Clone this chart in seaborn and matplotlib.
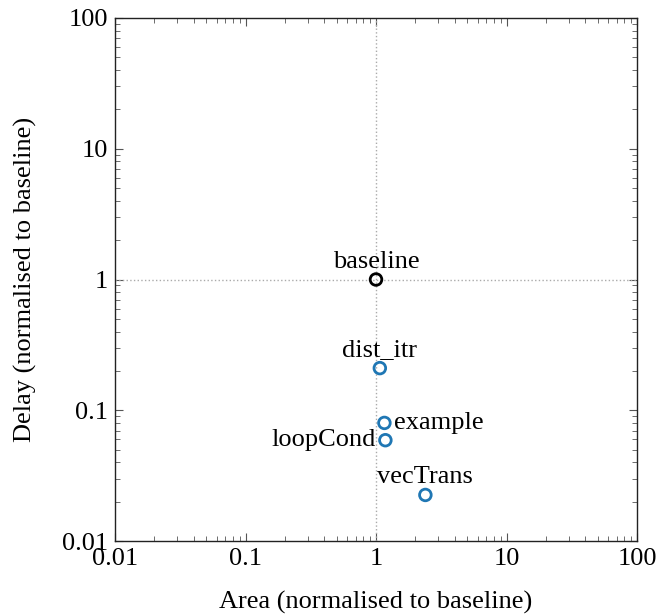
import seaborn as sns
import matplotlib.pyplot as plt
import pandas as pd

# Datos
nombres = ["baseline", "dist_itr", "example", "loopCond", "vecTrans"]
area    = [1.0, 1.07, 1.16, 1.18, 2.39]
delay   = [1.0, 0.21, 0.080, 0.059, 0.0225]
grupo   = ["base", "opt", "opt", "opt", "opt"]

df = pd.DataFrame({"nombre": nombres, "area": area, "delay": delay, "grupo": grupo})

sns.set_style("ticks")
plt.rcParams["font.family"] = ["Liberation Serif", "DejaVu Serif"]
plt.rcParams["text.color"] = "black"
plt.rcParams["axes.labelcolor"] = "black"
plt.rcParams["xtick.labelcolor"] = "black"
plt.rcParams["ytick.labelcolor"] = "black"

fig, ax = plt.subplots(figsize=(6.59, 6.14), dpi=100)
fig.subplots_adjust(left=115 / 659, right=637 / 659, top=1 - 18 / 614, bottom=1 - 541 / 614)

sns.scatterplot(data=df, x="area", y="delay", hue="grupo",
                palette={"base": "black", "opt": "#1f77b4"},
                marker="o", s=70, linewidth=2,
                legend=False, ax=ax, zorder=3)
# circulos huecos
for coll in ax.collections:
    coll.set_facecolor("none")
    ec = ["black" if g == "base" else "#1f77b4" for g in df["grupo"]]
    coll.set_edgecolor(ec)

ax.set_xscale("log")
ax.set_yscale("log")
ax.set_xlim(0.01, 100)
ax.set_ylim(0.01, 100)

ax.axvline(1, color="#aaaaaa", linestyle=":", linewidth=1.0, zorder=1)
ax.axhline(1, color="#aaaaaa", linestyle=":", linewidth=1.0, zorder=1)

ticks = [0.01, 0.1, 1, 10, 100]
etiquetas = ["0.01", "0.1", "1", "10", "100"]
ax.set_xticks(ticks)
ax.set_xticklabels(etiquetas)
ax.set_yticks(ticks)
ax.set_yticklabels(etiquetas)
ax.tick_params(which="both", direction="in", top=True, right=True,
               labelsize=19, color="#555555", pad=5)
ax.tick_params(which="major", length=6, width=0.8)
ax.tick_params(which="minor", length=3.5, width=0.6)
for s in ax.spines.values():
    s.set_linewidth(1.0)
    s.set_color("#222222")

# Etiquetas de los puntos
pos = {"baseline": ("center", "bottom", 0, 5),
       "dist_itr": ("center", "bottom", 0, 5),
       "example": ("left", "center", 7, 0),
       "loopCond": ("right", "center", -7, 0),
       "vecTrans": ("center", "bottom", 0, 5)}
for n, x, y in zip(nombres, area, delay):
    ha, va, dx, dy = pos[n]
    ax.annotate(n, (x, y), xytext=(dx, dy), textcoords="offset points",
                ha=ha, va=va, fontsize=19)

ax.set_xlabel("Area (normalised to baseline)", fontsize=19, labelpad=15)
ax.set_ylabel("Delay (normalised to baseline)", fontsize=19, labelpad=18)

fig.savefig("out.png", dpi=100)
